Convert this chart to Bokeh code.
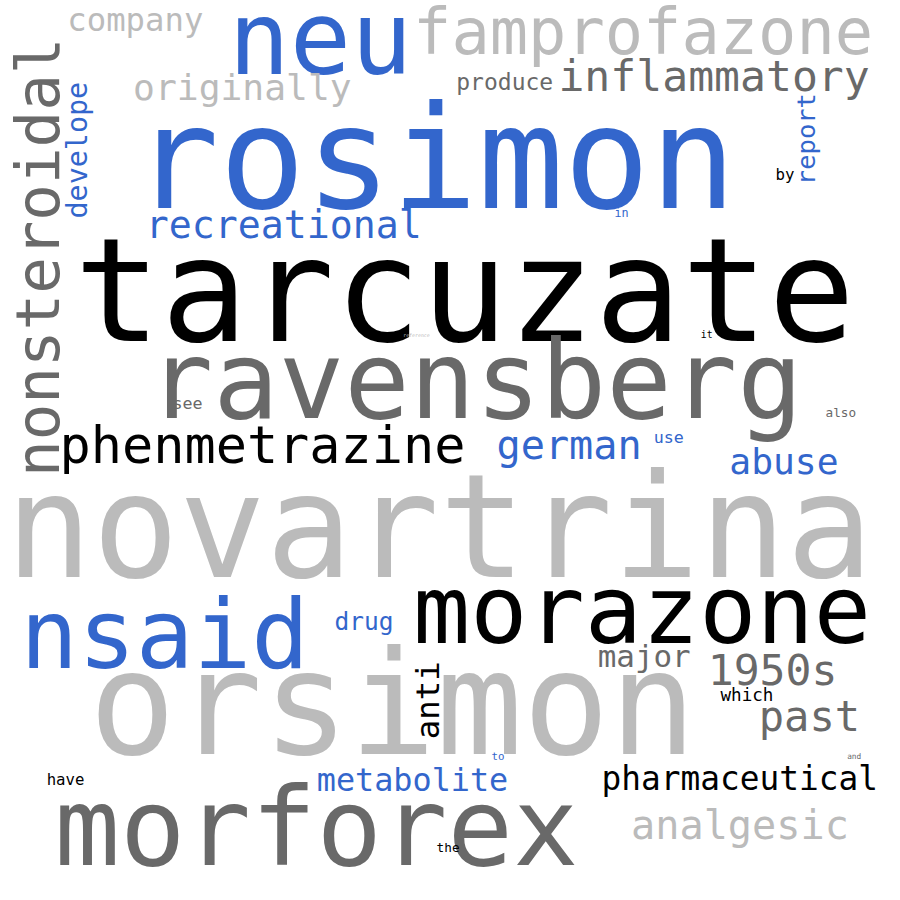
from math import pi
from bokeh.plotting import figure
from bokeh.models import ColumnDataSource
from bokeh.core.properties import value
from bokeh.embed import file_html
from bokeh.resources import INLINE

BLUE = "#3366cc"
GRAY = "#696969"
LIGHT = "#bbbbbb"
BLACK = "#000000"

words = ["tarcuzate", "novartrina", "orsimon", "rosimon", "ravensberg", "morforex",
         "morazone", "nsaid", "neu", "famprofazone", "nonsteroidal", "phenmetrazine",
         "inflammatory", "originally", "company", "recreational", "produce", "develope",
         "report", "by", "in", "it", "reference", "german", "use", "see", "also", "abuse",
         "drug", "major", "1950s", "anti", "past", "which", "metabolite", "pharmaceutical",
         "to", "and", "have", "analgesic", "the"]
xs = [75, 5, 90, 135, 150, 55, 420, 20, 232, 420, 57, 60, 568, 135, 68, 148, 464, 87,
      828, 789, 625, 713, 410, 505, 665, 175, 840, 742, 340, 608, 720, 445, 772, 733,
      322, 612, 500, 862, 47, 642, 444]
ys = [340, 580, 760, 205, 420, 875, 650, 675, 70, 52, 485, 468, 90, 100, 30, 240, 90,
      222, 188, 182, 220, 343, 342, 465, 450, 415, 423, 480, 640, 677, 695, 752, 742,
      712, 803, 803, 773, 772, 798, 852, 866]
sizes = [147, 147, 147, 146, 111, 111, 97, 98, 104, 65, 62, 53, 44, 37, 33, 39, 23.5,
         29, 26, 16, 12, 10, 5, 41, 17, 17, 13, 37, 25, 31.5, 44, 33, 43, 18, 32.5,
         33.5, 11, 8, 16, 41, 13]
colors = [BLACK, LIGHT, LIGHT, BLUE, GRAY, GRAY, BLACK, BLUE, BLUE, LIGHT, GRAY, BLACK,
          GRAY, LIGHT, LIGHT, BLUE, GRAY, BLUE, BLUE, BLACK, BLUE, BLACK, LIGHT, BLUE,
          BLUE, GRAY, GRAY, BLUE, BLUE, GRAY, GRAY, BLACK, GRAY, BLACK, BLUE, BLACK,
          BLUE, GRAY, BLACK, LIGHT, BLACK]
vertical = ["nonsteroidal", "develope", "report", "anti"]

# the renderer puts the baseline lower than the picture: shift by ~0.3 em
px, py, ang = [], [], []
for w, x, y, s in zip(words, xs, ys, sizes):
    if w in vertical:
        px.append(x - 0.3 * s)
        py.append(y)
        ang.append(pi / 2)
    else:
        px.append(x)
        py.append(y - 0.3 * s)
        ang.append(0)

src = ColumnDataSource(dict(
    x=px, y=py, text=words, color=colors,
    size=["%.1fpx" % (s * 0.98) for s in sizes], angle=ang,
))

p = figure(width=884, height=884, x_range=(0, 900), y_range=(900, 0),
           output_backend="svg", toolbar_location=None, min_border=0)
p.axis.visible = False
p.grid.visible = False
p.outline_line_color = None
p.text("x", "y", text="text", text_color="color", text_font_size="size", angle="angle",
       text_font=value("DejaVu Sans Mono"), text_baseline="alphabetic", source=src)

open("out.html", "w").write(file_html(p, INLINE))
